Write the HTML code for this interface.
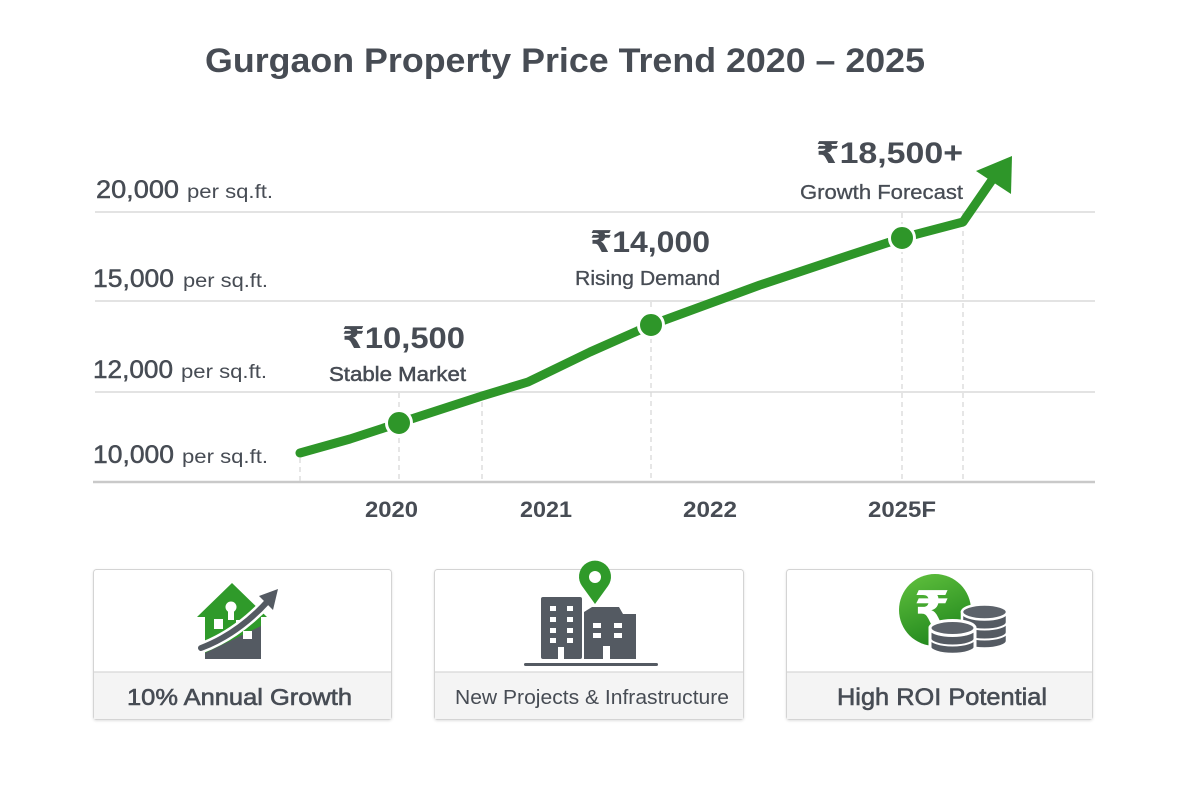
<!DOCTYPE html>
<html>
<head>
<meta charset="utf-8">
<style>
html,body{margin:0;padding:0;background:#fff;}
svg{display:block;}
text{font-family:"Liberation Sans","DejaVu Sans",sans-serif;fill:#474c54;}
</style>
</head>
<body>
<svg width="1200" height="800" viewBox="0 0 1200 800" xmlns="http://www.w3.org/2000/svg">
<defs>
<linearGradient id="gc" x1="0" y1="0" x2="0.4" y2="1">
<stop offset="0" stop-color="#62c23e"/>
<stop offset="1" stop-color="#248a1f"/>
</linearGradient>
<filter id="sh" x="-5%" y="-5%" width="110%" height="115%">
<feDropShadow dx="0" dy="1" stdDeviation="1.2" flood-color="#000" flood-opacity="0.12"/>
</filter>
</defs>
<rect width="1200" height="800" fill="#fff"/>

<!-- Title -->
<text x="205" y="72" font-size="34" font-weight="bold" textLength="720" lengthAdjust="spacingAndGlyphs">Gurgaon Property Price Trend 2020 – 2025</text>

<!-- Gridlines -->
<g stroke="#e3e3e3" stroke-width="2">
<line x1="95" y1="212" x2="1095" y2="212"/>
<line x1="95" y1="301" x2="1095" y2="301"/>
<line x1="95" y1="392" x2="1095" y2="392"/>
</g>
<line x1="93" y1="482" x2="1095" y2="482" stroke="#c9c9c9" stroke-width="2.5"/>

<!-- dashed verticals -->
<g stroke="#d9d9d9" stroke-width="1.3" stroke-dasharray="5,4">
<line x1="300" y1="458" x2="300" y2="481"/>
<line x1="399" y1="393" x2="399" y2="481"/>
<line x1="482" y1="393" x2="482" y2="481"/>
<line x1="651" y1="302" x2="651" y2="481"/>
<line x1="902" y1="213" x2="902" y2="481"/>
<line x1="963" y1="213" x2="963" y2="481"/>
</g>

<!-- Y labels -->
<g stroke="#474c54" stroke-width="0.5">
<text x="96" y="198" font-size="25" textLength="83" lengthAdjust="spacingAndGlyphs">20,000</text>
<text x="93" y="287" font-size="25" textLength="81" lengthAdjust="spacingAndGlyphs">15,000</text>
<text x="93" y="378" font-size="25" textLength="80" lengthAdjust="spacingAndGlyphs">12,000</text>
<text x="93" y="463" font-size="25" textLength="81" lengthAdjust="spacingAndGlyphs">10,000</text>
</g>
<text x="187" y="198" font-size="19" textLength="86" lengthAdjust="spacingAndGlyphs">per sq.ft.</text>
<text x="183" y="287" font-size="19" textLength="85" lengthAdjust="spacingAndGlyphs">per sq.ft.</text>
<text x="181" y="378" font-size="19" textLength="86" lengthAdjust="spacingAndGlyphs">per sq.ft.</text>
<text x="182" y="463" font-size="19" textLength="86" lengthAdjust="spacingAndGlyphs">per sq.ft.</text>

<!-- X labels -->
<text x="365" y="517" font-size="22" font-weight="bold" textLength="53" lengthAdjust="spacingAndGlyphs">2020</text>
<text x="520" y="517" font-size="22" font-weight="bold" textLength="52" lengthAdjust="spacingAndGlyphs">2021</text>
<text x="683" y="517" font-size="22" font-weight="bold" textLength="54" lengthAdjust="spacingAndGlyphs">2022</text>
<text x="868" y="517" font-size="22" font-weight="bold" textLength="68" lengthAdjust="spacingAndGlyphs">2025F</text>

<!-- Annotations -->
<text x="342" y="348" font-size="30" font-weight="bold" textLength="123" lengthAdjust="spacingAndGlyphs">₹10,500</text>
<text x="329" y="381" font-size="20" stroke="#474c54" stroke-width="0.5" textLength="137" lengthAdjust="spacingAndGlyphs">Stable Market</text>
<text x="590" y="252" font-size="30" font-weight="bold" textLength="120" lengthAdjust="spacingAndGlyphs">₹14,000</text>
<text x="575" y="285" font-size="20" stroke="#474c54" stroke-width="0.3" textLength="145" lengthAdjust="spacingAndGlyphs">Rising Demand</text>
<text x="816" y="163" font-size="30" font-weight="bold" textLength="147" lengthAdjust="spacingAndGlyphs">₹18,500+</text>
<text x="800" y="199" font-size="20" stroke="#474c54" stroke-width="0.3" textLength="163" lengthAdjust="spacingAndGlyphs">Growth Forecast</text>

<!-- Line -->
<path d="M300,453 L350,439 L399,423 L482,396 L528,382 L590,352 L651,325 L760,285 L850,255 L902,238 L963,222 L992,180" fill="none" stroke="#2e9629" stroke-width="9" stroke-linecap="round" stroke-linejoin="round"/>
<polygon points="1012,156 976,171 1011,194" fill="#2e9629"/>
<g fill="#2e9629" stroke="#fff" stroke-width="3">
<circle cx="399" cy="423" r="12.5"/>
<circle cx="651" cy="325" r="12.5"/>
<circle cx="902" cy="238" r="12.5"/>
</g>

<!-- Cards -->
<g filter="url(#sh)">
<rect x="93.5" y="569.5" width="298" height="150" rx="3" fill="#fff" stroke="#d4d4d4"/>
<rect x="434.5" y="569.5" width="309" height="150" rx="3" fill="#fff" stroke="#d4d4d4"/>
<rect x="786.5" y="569.5" width="306" height="150" rx="3" fill="#fff" stroke="#d4d4d4"/>
</g>
<g fill="#f4f4f4">
<rect x="94" y="672" width="297" height="47"/>
<rect x="435" y="672" width="308" height="47"/>
<rect x="787" y="672" width="305" height="47"/>
</g>
<g stroke="#d6d6d6" stroke-width="1.2">
<line x1="94" y1="672" x2="391" y2="672"/>
<line x1="435" y1="672" x2="743" y2="672"/>
<line x1="787" y1="672" x2="1092" y2="672"/>
</g>

<text x="127" y="705" font-size="23" stroke="#474c54" stroke-width="0.6" textLength="225" lengthAdjust="spacingAndGlyphs">10% Annual Growth</text>
<text x="455" y="704" font-size="20" textLength="274" lengthAdjust="spacingAndGlyphs">New Projects &amp; Infrastructure</text>
<text x="837" y="705" font-size="24" stroke="#474c54" stroke-width="0.6" textLength="210" lengthAdjust="spacingAndGlyphs">High ROI Potential</text>

<!-- Icon 1: house with arrow -->
<polygon points="197,617 232,583 267,617 261,617 261,659 205,659 205,617" fill="#2f9a2a"/>
<polygon points="205,659 205,653 261,626 261,659" fill="#545a62"/>
<g fill="#fff">
<circle cx="231" cy="607" r="5.5"/>
<rect x="228" y="607" width="6" height="13"/>
<rect x="214" y="619" width="9" height="10"/>
<rect x="236" y="620" width="8" height="8"/>
<rect x="243" y="631" width="9" height="8"/>
</g>
<path d="M201,648 Q238,634 268,601" fill="none" stroke="#fff" stroke-width="11" stroke-linecap="round"/>
<path d="M201,648 Q238,634 268,601" fill="none" stroke="#545a62" stroke-width="6" stroke-linecap="round"/>
<polygon points="278,589 259,596 273,610" fill="#545a62"/>

<!-- Icon 2: buildings + pin -->
<g fill="#545a62">
<rect x="541" y="597" width="41" height="62" rx="2"/>
<polygon points="584,659 584,612 592,607 619,607 623,614 636,614 636,659"/>
<rect x="524" y="663" width="134" height="3" rx="1.5"/>
</g>
<g fill="#fff">
<rect x="550" y="606" width="6" height="5"/><rect x="567" y="606" width="6" height="5"/>
<rect x="550" y="617" width="6" height="5"/><rect x="567" y="617" width="6" height="5"/>
<rect x="550" y="628" width="6" height="5"/><rect x="567" y="628" width="6" height="5"/>
<rect x="550" y="638" width="6" height="5"/><rect x="567" y="638" width="6" height="5"/>
<rect x="558" y="647" width="6" height="12"/>
<rect x="593" y="623" width="8" height="5"/><rect x="614" y="623" width="8" height="5"/>
<rect x="593" y="633" width="8" height="5"/><rect x="614" y="633" width="8" height="5"/>
<rect x="603" y="646" width="7" height="13"/>
<rect x="582" y="600" width="2" height="59"/>
</g>
<path d="M595,604 L582,586 A16,16 0 1 1 608,586 Z" fill="#2f9a2a"/>
<circle cx="595" cy="577" r="6" fill="#fff"/>

<!-- Icon 3: rupee coin + stacks -->
<circle cx="935" cy="610" r="36" fill="url(#gc)"/>
<text x="932" y="628" font-size="52" font-weight="bold" text-anchor="middle" style="fill:#fff">₹</text>
<!-- back stack -->
<g stroke="#fff" stroke-width="2.5">
<path d="M962,612 L962,641 A22.5,7.5 0 0 0 1007,641 L1007,612 Z" fill="#545a62"/>
<ellipse cx="984.5" cy="612" rx="22.5" ry="7.5" fill="#5c626a"/>
</g>
<g fill="none" stroke="#fff" stroke-width="2">
<path d="M962,622 A22.5,7.5 0 0 0 1007,622"/>
<path d="M962,632 A22.5,7.5 0 0 0 1007,632"/>
</g>
<!-- front stack -->
<g stroke="#fff" stroke-width="3">
<path d="M930,628 L930,648 A22.5,7.5 0 0 0 975,648 L975,628 Z" fill="#545a62"/>
<ellipse cx="952.5" cy="628" rx="22.5" ry="7.5" fill="#5c626a"/>
</g>
<g fill="none" stroke="#fff" stroke-width="2">
<path d="M930,638 A22.5,7.5 0 0 0 975,638"/>
<path d="M930,646 A22.5,7.5 0 0 0 975,646" stroke-width="1.5"/>
</g>
</svg>
</body>
</html>
